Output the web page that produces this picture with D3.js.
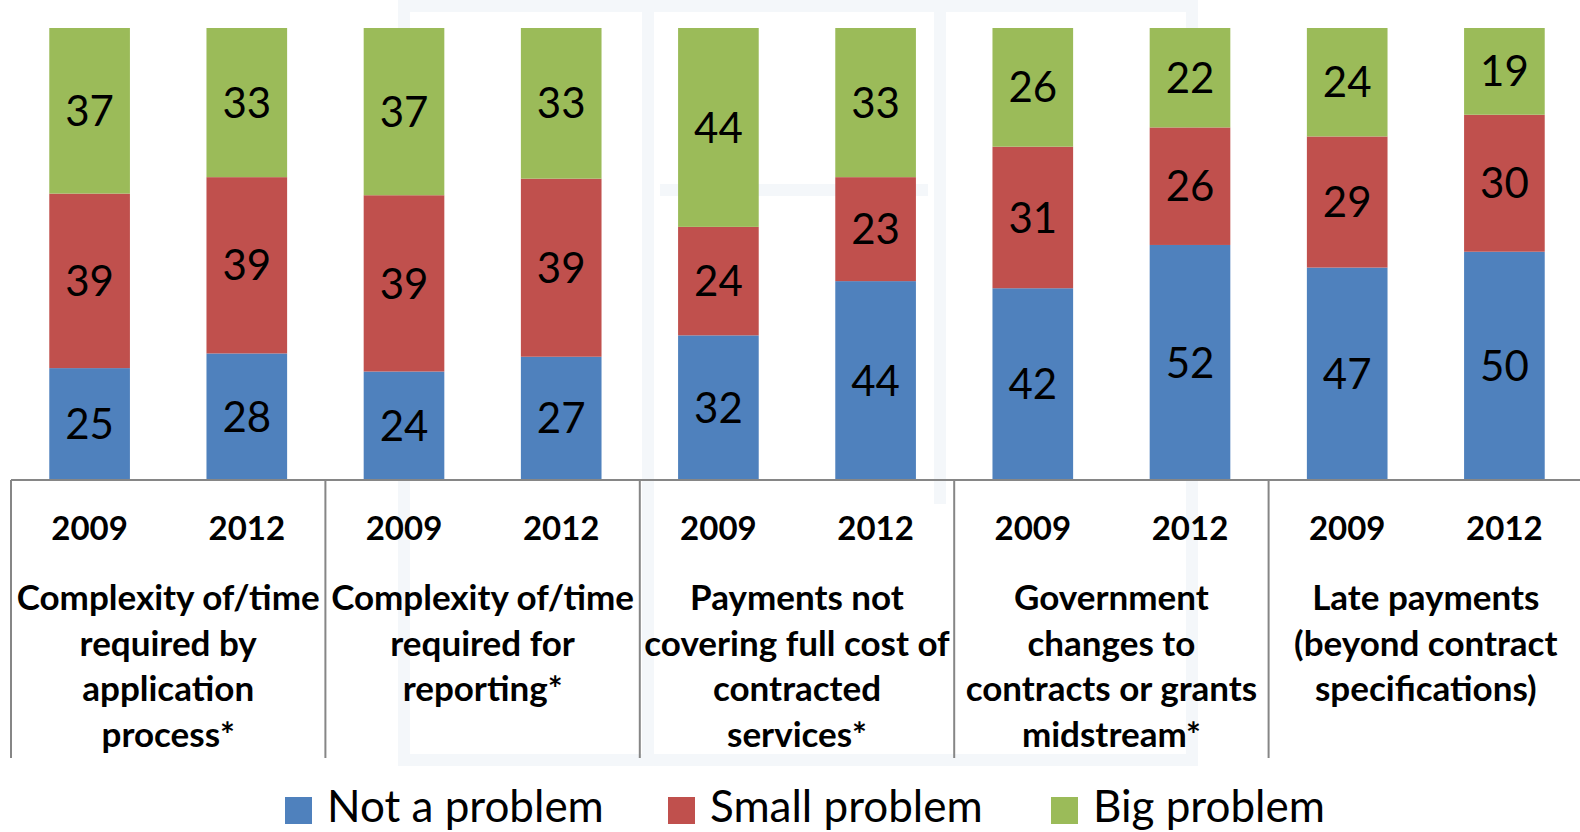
<!DOCTYPE html>
<html>
<head>
<meta charset="utf-8">
<script src="https://cdn.jsdelivr.net/npm/d3@7"></script>
<style>
  html, body { margin: 0; background: #fff; overflow: hidden; }
  svg { display: block; }
  text { font-family: Lato, "Open Sans", sans-serif; }
</style>
</head>
<body>
<svg id="svg" width="1580" height="832"></svg>
<script>
const categories = [
  "Complexity of/time|required by|application|process*",
  "Complexity of/time|required for|reporting*",
  "Payments not|covering full cost of|contracted|services*",
  "Government|changes to|contracts or grants|midstream*",
  "Late payments|(beyond contract|specifications)"
]
const years = ["2009", "2012"]
const seriesNames = ["Not a problem", "Small problem", "Big problem"]
const colors = ["#4F81BD", "#C0504D", "#9BBB59"]
// one value per bar, order: cat1 2009, cat1 2012, cat2 2009 ...
const notProblem = [25, 28, 24, 27, 32, 44, 42, 52, 47, 50]
const smallProblem = [39, 39, 39, 39, 24, 23, 31, 26, 29, 30]
const bigProblem = [37, 33, 37, 33, 44, 33, 26, 22, 24, 19]

const svg = d3.select("#svg")
const plotLeft = 11, plotRight = 1583, plotTop = 28, axisY = 480

// faint watermark frame behind the chart
const wm = svg.append("g").attr("fill", "none").attr("stroke", "#f4f7fa").attr("stroke-width", 12)
wm.append("rect").attr("x", 404).attr("y", 6).attr("width", 788).attr("height", 754)
wm.append("line").attr("x1", 648).attr("x2", 648).attr("y1", 6).attr("y2", 760)
wm.append("line").attr("x1", 940).attr("x2", 940).attr("y1", 6).attr("y2", 504)
wm.append("line").attr("x1", 660).attr("x2", 928).attr("y1", 190).attr("y2", 190)

const bars = notProblem.map((d, i) => {
  const vals = [d, smallProblem[i], bigProblem[i]]
  const total = d3.sum(vals)
  let acc = 0
  return {
    i, cat: Math.floor(i / 2), year: years[i % 2],
    segs: vals.map((v, k) => { const s = { k, v, y0: acc / total, y1: (acc + v) / total }; acc += v; return s })
  }
})

const x = d3.scaleBand().domain(d3.range(bars.length)).range([plotLeft, plotRight]).paddingInner(0.487).paddingOuter(0.2435)
const y = d3.scaleLinear([0, 1], [axisY, plotTop])
const xCat = d3.scaleBand().domain(d3.range(categories.length)).range([plotLeft, plotRight])

const g = svg.append("g")
const barG = g.selectAll("g.bar").data(bars).join("g").attr("class", "bar")
barG.selectAll("rect").data(d => d.segs.map(s => ({ ...s, i: d.i }))).join("rect")
  .attr("x", d => x(d.i)).attr("width", x.bandwidth())
  .attr("y", d => y(d.y1)).attr("height", d => y(d.y0) - y(d.y1))
  .attr("fill", d => colors[d.k])
barG.selectAll("text").data(d => d.segs.map(s => ({ ...s, i: d.i }))).join("text")
  .attr("x", d => x(d.i) + x.bandwidth() / 2).attr("y", d => y((d.y0 + d.y1) / 2))
  .attr("text-anchor", "middle").attr("dy", "0.36em")
  .attr("font-size", 42).attr("fill", "#000")
  .text(d => d.v)

// axis line and group separators
g.append("line").attr("x1", plotLeft).attr("x2", plotRight).attr("y1", axisY).attr("y2", axisY)
  .attr("stroke", "#868686").attr("stroke-width", 2)
g.selectAll("line.sep").data(d3.range(categories.length)).join("line").attr("class", "sep")
  .attr("x1", d => xCat(d)).attr("x2", d => xCat(d))
  .attr("y1", axisY).attr("y2", 758)
  .attr("stroke", "#868686").attr("stroke-width", 2)

g.selectAll("text.year").data(bars).join("text").attr("class", "year")
  .attr("x", d => x(d.i) + x.bandwidth() / 2).attr("y", 540)
  .attr("text-anchor", "middle").attr("font-size", 33).attr("font-weight", "bold")
  .text(d => d.year)

const catText = g.selectAll("text.cat").data(categories).join("text").attr("class", "cat")
  .attr("x", (d, i) => xCat(i) + xCat.bandwidth() / 2).attr("y", 610)
  .attr("text-anchor", "middle").attr("font-size", 35).attr("font-weight", "bold")
catText.selectAll("tspan").data(d => d.split("|")).join("tspan")
  .attr("x", function () { return this.parentNode.getAttribute("x") })
  .attr("dy", (d, i) => i ? 45.5 : 0)
  .text(d => d)

// legend
const legendX = [285, 668, 1051]
const leg = svg.selectAll("g.leg").data(seriesNames).join("g").attr("class", "leg")
  .attr("transform", (d, i) => `translate(${legendX[i]},797)`)
leg.append("rect").attr("width", 27).attr("height", 27).attr("fill", (d, i) => colors[i])
leg.append("text").attr("x", 42).attr("y", 25).attr("font-size", 44).text(d => d)
</script>
</body>
</html>
